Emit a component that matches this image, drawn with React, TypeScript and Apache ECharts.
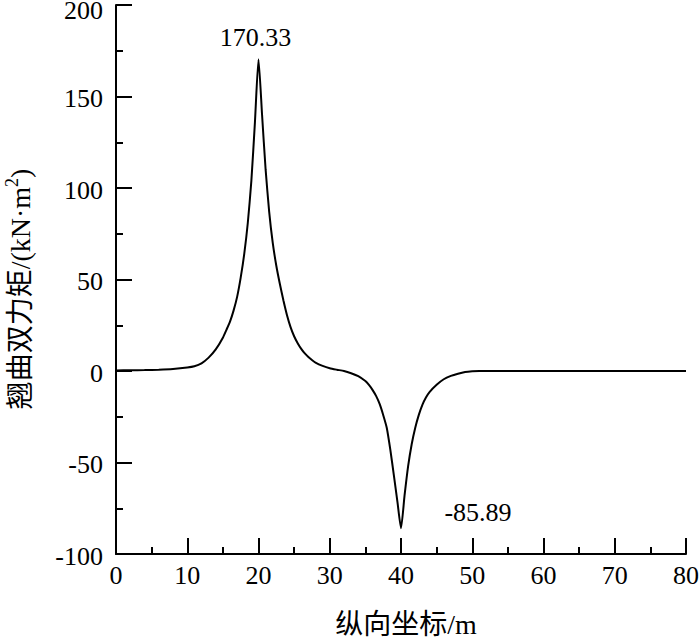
import React, { useEffect, useRef } from "react";
import * as echarts from "echarts";

const xs: number[] = [
  0, 2, 4, 6, 8, 10, 11, 12, 13, 14, 15, 15.5, 16, 16.5, 17, 17.5, 18, 18.5, 19, 19.5, 20,
  20.5, 21, 21.5, 22, 22.5, 23, 23.5, 24, 24.5, 25, 25.5, 26, 26.5, 27, 27.5, 28, 29, 30, 31, 32, 33, 34, 35,
  35.5, 36, 36.5, 37, 37.5, 38, 38.5, 39, 39.5, 40, 40.5, 41, 41.5, 42, 42.5, 43, 43.5, 44, 45, 46, 47,
  48, 49, 50, 51, 52, 55, 60, 65, 70, 75, 80,
];
const moments: number[] = [
  0.3, 0.4, 0.5, 0.7, 1.1, 1.9, 2.6, 4.2, 7.3, 11.8, 18.2, 22.5, 27, 33, 40.5, 51, 64, 81, 104, 136, 170.33,
  140, 110, 87, 70, 57.5, 47.5, 38.5, 30.5, 24, 19, 15.2, 12.1, 9.6, 7.6, 6, 4.6, 2.8, 1.5, 0.7, 0, -1.2, -2.8, -5.5,
  -7.6, -10.3, -13.6, -18, -24, -31, -43, -57, -71.5, -85.89, -68, -52, -40, -31, -24, -18.5, -14.5, -11.5, -7.5, -4.5, -2.7,
  -1.5, -0.6, -0.2, 0, 0, 0, 0, 0, 0, 0, 0,
];
const yTicks = { min: -100, max: 200, interval: 50 };
const xTicks = { min: 0, max: 80, interval: 10 };
const peakLabel = "170.33";
const troughLabel = "-85.89";
const peakPoint = [20, 170.33];
const troughPoint = [40, -85.89];
const xName = "纵向坐标/m";
const yNameMain = "翘曲双力矩/(kN·m";
const yNameSup = "2";

const FONT = "'Liberation Serif', 'Times New Roman', 'Noto Sans CJK SC', serif";

export default function App() {
  const ref = useRef<HTMLDivElement>(null);
  useEffect(() => {
    if (!ref.current) return;
    const chart = echarts.init(ref.current, undefined, { renderer: "svg" });
    const data = xs.map((x, i) => [x, moments[i]]);
    const axisCommon = {
      axisLine: { show: true, onZero: false, lineStyle: { color: "#000", width: 2 } },
      axisTick: { show: true, inside: true, length: 16, lineStyle: { color: "#000", width: 2 } },
      minorTick: { show: true, splitNumber: 2, length: 7, lineStyle: { color: "#000", width: 2 } },
      splitLine: { show: false },
      minorSplitLine: { show: false },
    };
    const lab = { color: "#000", fontSize: 26, fontFamily: FONT };
    chart.setOption({
      animation: false,
      backgroundColor: "#fff",
      grid: { left: 116, right: 14, top: 5, bottom: 84, containLabel: false, outerBoundsMode: "none" },
      xAxis: {
        type: "value",
        ...xTicks,
        ...axisCommon,
        axisLabel: { ...lab, margin: 8 },
      },
      yAxis: {
        type: "value",
        ...yTicks,
        ...axisCommon,
        axisLabel: {
          ...lab,
          margin: 13,
          formatter: (v: number) => (v === yTicks.max ? `{t|${v}}` : `{n|${v}}`),
          rich: {
            t: { ...lab, padding: [10, 0, 0, 0] },
            n: { ...lab, padding: [4, 0, 0, 0] },
          },
        },
      },
      series: [
        {
          type: "line",
          data,
          showSymbol: false,
          symbol: "none",
          smooth: 0.2,
          lineStyle: { color: "#000", width: 2 },
          markPoint: {
            symbol: "circle",
            symbolSize: 0,
            itemStyle: { color: "transparent" },
            data: [
              {
                coord: peakPoint,
                label: {
                  show: true,
                  formatter: peakLabel,
                  position: "inside",
                  offset: [-3, -22],
                  ...lab,
                },
              },
              {
                coord: troughPoint,
                label: {
                  show: true,
                  formatter: troughLabel,
                  position: "inside",
                  offset: [77, -16],
                  ...lab,
                },
              },
            ],
          },
        },
      ],
      graphic: [
        {
          type: "text",
          x: 406,
          y: 624,
          style: {
            text: xName,
            fill: "#000",
            font: `28px ${FONT}`,
            align: "center",
            verticalAlign: "middle",
          },
        },
        {
          type: "text",
          x: 20,
          y: 289,
          rotation: Math.PI / 2,
          style: {
            text: `{a|${yNameMain}}{s|${yNameSup}}{a|)}`,
            fill: "#000",
            align: "center",
            verticalAlign: "middle",
            rich: {
              a: { fontSize: 28, fontFamily: FONT, fill: "#000", lineHeight: 34 },
              s: { fontSize: 18, fontFamily: FONT, fill: "#000", verticalAlign: "top", lineHeight: 34 },
            },
          },
        },
      ],
    });
    return () => chart.dispose();
  }, []);
  return (
    <div
      ref={ref}
      style={{ position: "fixed", left: 0, top: 0, width: 700, height: 638, background: "#fff" }}
    />
  );
}
